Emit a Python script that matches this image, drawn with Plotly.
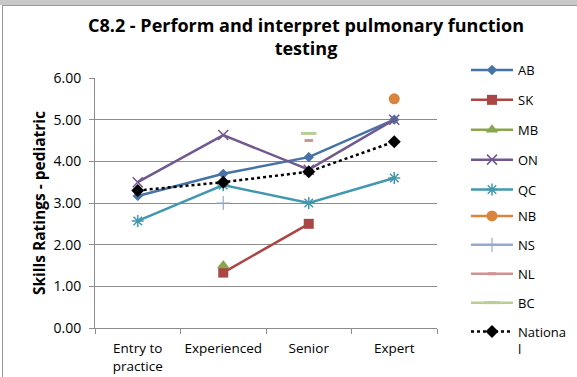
import plotly.graph_objects as go

categories = ["Entry to<br>practice", "Experienced", "Senior", "Expert"]

ab = [3.17, 3.70, 4.10, 5.00]
sk = [None, 1.33, 2.50, None]
mb = [None, 1.50, None, None]
on = [3.50, 4.63, 3.80, 5.00]
qc = [2.57, 3.43, 3.00, 3.60]
nb = [None, None, None, 5.50]
ns = [None, 3.00, None, None]
nl = [None, None, 4.50, None]
bc = [None, None, 4.67, None]
national = [3.30, 3.50, 3.75, 4.47]

FONT = "Open Sans"

series = [
    ("AB", ab, "#4572A7", dict(symbol="diamond", size=8)),
    ("SK", sk, "#AA4643", dict(symbol="square", size=10)),
    ("MB", mb, "#89A54E", dict(symbol="triangle-up", size=11)),
    ("ON", on, "#71588F", dict(symbol="x-thin-open", size=10, line=dict(width=1.5, color="#71588F"))),
    ("QC", qc, "#4198AF", dict(symbol="asterisk-open", size=10, line=dict(width=1.5, color="#4198AF"))),
    ("NB", nb, "#DB843D", dict(symbol="circle", size=11)),
    ("NS", ns, "#93A9CF", dict(symbol="cross-thin-open", size=10, line=dict(width=1.2, color="#93A9CF"))),
    ("NL", nl, "#D19392", dict(symbol="line-ew-open", size=6, line=dict(width=3, color="#D19392"))),
    ("BC", bc, "#B9CD96", dict(symbol="line-ew-open", size=11, line=dict(width=3, color="#B9CD96"))),
]

fig = go.Figure()
for i, (name, vals, color, marker) in enumerate(series):
    fig.add_trace(go.Scatter(
        x=categories, y=vals, name=name, mode="lines+markers",
        line=dict(color=color, width=2.5), marker=dict(color=color, **marker),
        legendgroup=f"g{i}", connectgaps=False,
        legend="legend" if i < 5 else "legend2",
    ))

fig.add_trace(go.Scatter(
    x=categories, y=national, name="Nationa<br>l", mode="lines+markers",
    line=dict(color="black", width=2.5, dash="dot"),
    marker=dict(color="black", symbol="diamond", size=10),
    legendgroup="g9", legend="legend2",
))

W, H = 577, 377
L, R, T, B = 95, 140, 78, 49
pw, ph = W - L - R, H - T - B

def px_x(p):
    return (p - L) / pw

def px_y(p):
    return (H - B - p) / ph

legend_style = dict(
    xref="container", yref="container", xanchor="left", yanchor="top",
    font=dict(family=FONT, size=13, color="black"),
    itemwidth=42, traceorder="grouped", valign="top",
    bgcolor="rgba(0,0,0,0)",
)

fig.update_layout(
    width=W, height=H,
    margin=dict(l=L, r=R, t=T, b=B),
    paper_bgcolor="white", plot_bgcolor="white",
    font=dict(family=FONT, size=13, color="black"),
    title=dict(
        text="<b>C8.2 - Perform and interpret pulmonary function<br>testing</b>",
        x=306 / W, xref="container", xanchor="center",
        y=1 - 32 / H, yref="container", yanchor="middle",
        font=dict(family=FONT, size=18, color="black"),
    ),
    showlegend=True,
    legend=dict(x=466 / W, y=1 - 55 / H, tracegroupgap=10, **legend_style),
    legend2=dict(x=466 / W, y=1 - 201 / H, tracegroupgap=9, **legend_style),
    xaxis=dict(
        type="category", showgrid=False, showline=True, linecolor="#8c8c8c", linewidth=1,
        ticks="outside", tickson="boundaries", ticklen=5, tickcolor="#8c8c8c",
        tickfont=dict(family=FONT, size=13.5), range=[-0.5, 3.5],
        tickangle=0, automargin=False, ticklabelstandoff=8,
    ),
    yaxis=dict(
        range=[0, 6], dtick=1, tickformat=".2f", showgrid=True, gridcolor="#8c8c8c",
        gridwidth=1, showline=True, linecolor="#8c8c8c", ticks="outside", ticklen=5,
        tickcolor="#8c8c8c", zeroline=False, tickfont=dict(family=FONT, size=14),
        ticklabelstandoff=5, automargin=False,
        title=dict(text="<b>Skills Ratings - pediatric</b>", font=dict(family=FONT, size=15.5), standoff=4),
    ),
    shapes=[
        dict(type="rect", xref="paper", yref="paper", x0=px_x(0), x1=px_x(W), y0=px_y(0), y1=px_y(5),
             fillcolor="#c8c8c8", line=dict(width=0), layer="below"),
        dict(type="line", xref="paper", yref="paper", x0=px_x(2.5), x1=px_x(2.5), y0=px_y(5), y1=px_y(H),
             line=dict(color="#9a9a9a", width=1)),
        dict(type="line", xref="paper", yref="paper", x0=px_x(2.5), x1=px_x(W), y0=px_y(5.5), y1=px_y(5.5),
             line=dict(color="#9a9a9a", width=1)),
    ],
)

fig.write_html("out.html")
